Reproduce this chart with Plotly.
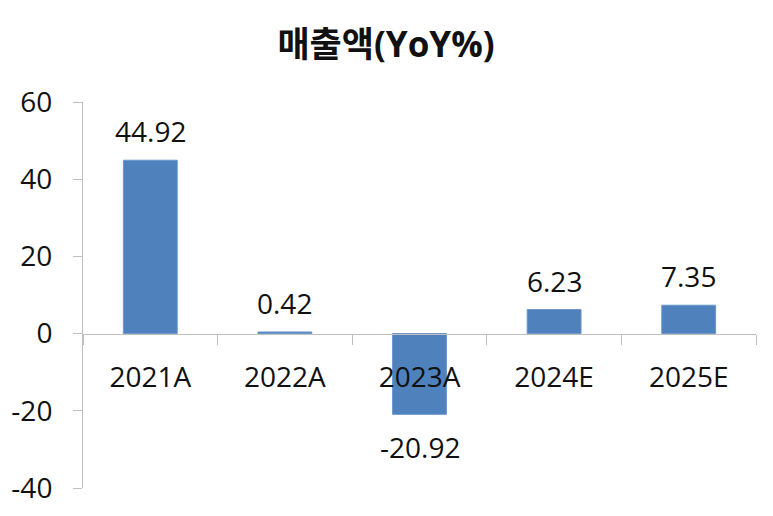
import plotly.graph_objects as go

categories = ["2021A", "2022A", "2023A", "2024E", "2025E"]
values = [44.92, 0.42, -20.92, 6.23, 7.35]
title_text = "매출액(YoY%)"
y_ticks = [-40, -20, 0, 20, 40, 60]

FONT = "Open Sans, Noto Sans CJK KR, sans-serif"
AXIS_COLOR = "#BFBFBF"
FS = 28

fig = go.Figure()
fig.add_trace(go.Bar(
    x=categories, y=values,
    marker=dict(color="#4F81BD", line=dict(color="#6A96CC", width=1)),
    width=0.4,
    hoverinfo="x+y",
))

for c, v in zip(categories, values):
    fig.add_annotation(
        x=c, y=v, text=f"{v:.2f}", showarrow=False,
        yshift=29 if v >= 0 else -33,
        yanchor="middle",
        font=dict(family=FONT, size=FS, color="#111111"),
    )

# page body adds an 8px offset; margins compensate for it
fig.update_layout(
    width=773, height=516,
    margin=dict(l=75, r=25, t=94, b=36),
    paper_bgcolor="white", plot_bgcolor="white",
    showlegend=False,
    title=dict(text=f"<b>{title_text}</b>", x=378 / 773, xanchor="center",
               xref="container",
               y=1 - 37 / 516, yanchor="middle", yref="container",
               font=dict(family=FONT, size=35, color="#111111")),
    font=dict(family=FONT, color="#111111"),
)

fig.update_xaxes(
    anchor="free", position=0.4, automargin=False,
    showline=True, linecolor=AXIS_COLOR, linewidth=1,
    ticks="outside", ticklen=10, tickcolor=AXIS_COLOR, tickson="boundaries",
    tickfont=dict(family=FONT, size=FS, color="#111111"),
    ticklabelstandoff=19,
    showgrid=False, zeroline=False,
)
fig.update_yaxes(
    range=[-40, 60], tickvals=y_ticks, ticktext=[str(t) for t in y_ticks],
    automargin=False,
    showline=True, linecolor=AXIS_COLOR, linewidth=1,
    ticks="outside", ticklen=9, tickcolor=AXIS_COLOR,
    tickfont=dict(family=FONT, size=FS, color="#111111"),
    ticklabelstandoff=15,
    showgrid=False, zeroline=False,
)

fig.write_html("out.html")
